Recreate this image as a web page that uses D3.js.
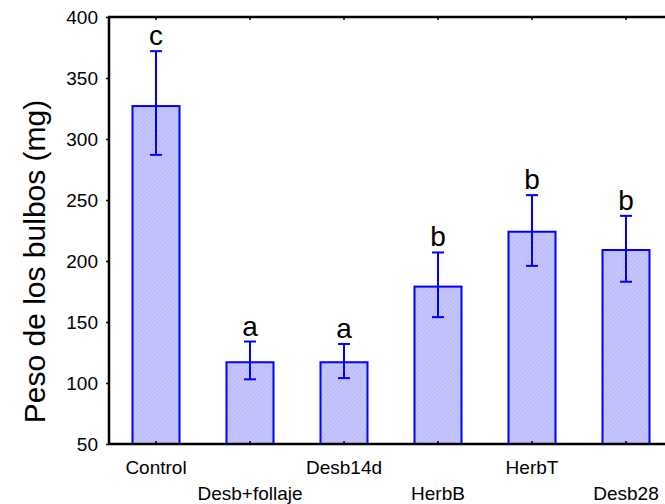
<!DOCTYPE html>
<html>
<head>
<meta charset="utf-8">
<script src="https://cdn.jsdelivr.net/npm/d3@7"></script>
<style>
  body { margin: 0; background: #fff; }
  text { font-family: "Liberation Sans", Arial, sans-serif; fill: #000; }
</style>
</head>
<body>
<div id="chart"></div>
<script>
// data
var categories = ['Control', 'Desb+follaje', 'Desb14d', 'HerbB', 'HerbT', 'Desb28'];
var means = [327, 117, 117, 179, 224, 209];
var errHigh = [372, 134, 132, 207, 254, 237];
var errLow = [287, 103, 104, 154, 196, 183];
var groupLetters = ['c', 'a', 'a', 'b', 'b', 'b'];
var yTicks = [50, 100, 150, 200, 250, 300, 350, 400];

var width = 665, height = 504;
// plot edges (window.top is taken, so no "top" here)
var padLeft = 109, padRight = 673, padTop = 17, padBottom = 444;

var svg = d3.select('#chart').append('svg')
    .attr('width', width)
    .attr('height', height);

// hatch fill like the original bars
var pat = svg.append('defs').append('pattern')
    .attr('id', 'hatch')
    .attr('patternUnits', 'userSpaceOnUse')
    .attr('width', 3)
    .attr('height', 3)
    .attr('patternTransform', 'rotate(45)');
pat.append('rect')
    .attr('width', 3).attr('height', 3)
    .attr('fill', '#c6c6ff');
pat.append('line')
    .attr('x1', 0).attr('y1', 0).attr('x2', 0).attr('y2', 3)
    .attr('stroke', '#a9a9ee')
    .attr('stroke-width', 1);

var x = d3.scaleBand()
    .domain(categories)
    .range([padLeft, padRight])
    .paddingInner(0.5)
    .paddingOuter(0.25);

var y = d3.scaleLinear()
    .domain([50, 400])
    .range([padBottom, padTop]);

var rows = categories.map(function(c, i) {
  return { cat: c, mean: means[i], hi: errHigh[i], lo: errLow[i], letter: groupLetters[i], i: i };
});

// bars
svg.selectAll('rect.bar')
  .data(rows)
  .enter().append('rect')
    .attr('class', 'bar')
    .attr('x', function(d) { return x(d.cat); })
    .attr('y', function(d) { return y(d.mean); })
    .attr('width', x.bandwidth())
    .attr('height', function(d) { return y(50) - y(d.mean); })
    .attr('fill', 'url(#hatch)')
    .attr('stroke', '#0000ff')
    .attr('stroke-width', 2);

// error bars
var cx = function(d) { return x(d.cat) + x.bandwidth() / 2; };
var err = svg.selectAll('g.err')
  .data(rows)
  .enter().append('g')
    .attr('class', 'err')
    .attr('stroke', '#0000ff')
    .attr('stroke-width', 2);
err.append('line')
    .attr('x1', cx).attr('x2', cx)
    .attr('y1', function(d) { return y(d.hi); })
    .attr('y2', function(d) { return y(d.lo); });
err.append('line')
    .attr('x1', function(d) { return cx(d) - 6; })
    .attr('x2', function(d) { return cx(d) + 6; })
    .attr('y1', function(d) { return y(d.hi); })
    .attr('y2', function(d) { return y(d.hi); });
err.append('line')
    .attr('x1', function(d) { return cx(d) - 6; })
    .attr('x2', function(d) { return cx(d) + 6; })
    .attr('y1', function(d) { return y(d.lo); })
    .attr('y2', function(d) { return y(d.lo); });

// letters over the bars
svg.selectAll('text.letter')
  .data(rows)
  .enter().append('text')
    .attr('class', 'letter')
    .attr('x', cx)
    .attr('y', function(d) { return y(d.hi) - 6; })
    .attr('text-anchor', 'middle')
    .style('font-size', '28px')
    .text(function(d) { return d.letter; });

// y axis
var yAxis = svg.append('g')
    .attr('transform', 'translate(' + padLeft + ',0)')
    .call(d3.axisLeft(y).tickValues(yTicks).tickSize(3).tickPadding(8));
yAxis.select('.domain').remove();
yAxis.selectAll('text').style('font-size', '19px');
yAxis.selectAll('line').attr('stroke-width', 1.5);

// x axis, labels staggered on two rows
var xAxis = svg.append('g')
    .attr('transform', 'translate(0,' + padBottom + ')')
    .call(d3.axisBottom(x).tickSize(-3).tickSizeOuter(0).tickPadding(0));
xAxis.select('.domain').remove();
xAxis.selectAll('line').attr('stroke-width', 1.5);
xAxis.selectAll('text')
    .style('font-size', '19px')
    .attr('dy', null)
    .attr('y', function(d, i) { return i % 2 === 0 ? 30 : 56; });

// top ticks
svg.append('g')
    .attr('transform', 'translate(0,' + padTop + ')')
    .call(d3.axisTop(x).tickSize(-3).tickSizeOuter(0).tickFormat(''))
  .call(function(g) { g.select('.domain').remove(); })
  .selectAll('line').attr('stroke-width', 1.5);

// frame lines
svg.append('line')
    .attr('x1', padLeft).attr('x2', padLeft)
    .attr('y1', padTop).attr('y2', padBottom)
    .attr('stroke', '#000').attr('stroke-width', 2.5);
svg.append('line')
    .attr('x1', padLeft - 1).attr('x2', padRight)
    .attr('y1', padBottom).attr('y2', padBottom)
    .attr('stroke', '#000').attr('stroke-width', 2.5);
svg.append('line')
    .attr('x1', padLeft - 1).attr('x2', padRight)
    .attr('y1', padTop).attr('y2', padTop)
    .attr('stroke', '#000').attr('stroke-width', 2.5);

// y axis title
svg.append('text')
    .attr('transform', 'translate(45,' + ((padTop + padBottom) / 2 + 31) + ') rotate(-90)')
    .attr('text-anchor', 'middle')
    .style('font-size', '30px')
    .text('Peso de los bulbos (mg)');
</script>
</body>
</html>
